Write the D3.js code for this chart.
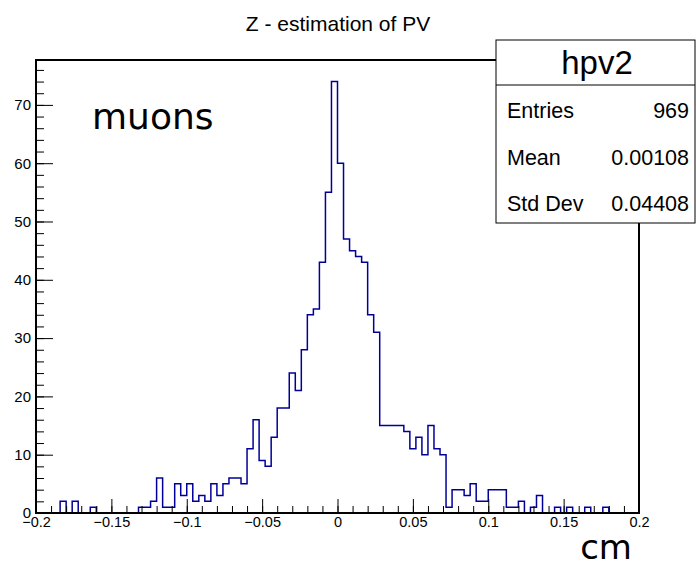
<!DOCTYPE html>
<html>
<head>
<meta charset="utf-8">
<script src="https://cdn.jsdelivr.net/npm/d3@7"></script>
<style>
  body { margin: 0; background: #fff; }
  text { font-family: "Liberation Sans", Arial, sans-serif; }
</style>
</head>
<body>
<script>
// histogram binning (100 bins from -0.2 to 0.2)
const xMin = -0.2, xMax = 0.2, nBins = 100;

// bin contents
const counts = [
  0, 0, 0, 0, 2, 0, 2, 0, 0, 1,
  0, 0, 0, 0, 0, 0, 0, 1, 1, 2,
  6, 1, 1, 5, 3, 5, 2, 3, 2, 5,
  3, 5, 6, 6, 5, 11, 16, 9, 8, 13,
  18, 18, 24, 21, 28, 34, 35, 43, 55, 74,
  60, 47, 45, 44, 43, 34, 31, 15, 15, 15,
  15, 14, 11, 13, 10, 15, 11, 10, 1, 4,
  4, 3, 5, 2, 2, 4, 4, 4, 1, 1,
  2, 0, 1, 3, 0, 0, 1, 0, 1, 0,
  0, 1, 0, 0, 1, 0, 0, 0, 0, 0
];

const xTicks = [-0.2, -0.15, -0.1, -0.05, 0, 0.05, 0.1, 0.15, 0.2];
const xTickLabels = ["\u22120.2", "\u22120.15", "\u22120.1", "\u22120.05", "0", "0.05", "0.1", "0.15", "0.2"];
const yTicks = [0, 10, 20, 30, 40, 50, 60, 70];

const statsNames = ["Entries", "Mean", "Std Dev"];
const statsValues = ["969", "0.00108", "0.04408"];

const width = 696, height = 564;
const svg = d3.select("body").append("svg")
    .attr("width", width)
    .attr("height", height);

svg.append("rect").attr("width", width).attr("height", height).attr("fill", "#fff");

const frameL = 36, frameR = 639, frameT = 60, frameB = 513;
const yMax = d3.max(counts) * 1.05;

const x = d3.scaleLinear().domain([xMin, xMax]).range([frameL, frameR]);
const y = d3.scaleLinear().domain([0, yMax]).range([frameB, frameT]);

const binW = (xMax - xMin) / nBins;
const steps = counts.map((c, i) => [xMin + i * binW, c]);
steps.push([xMax, counts[counts.length - 1]]);

// histogram outline
svg.append("path")
    .datum(steps)
    .attr("fill", "none")
    .attr("stroke", "#000099")
    .attr("stroke-width", 1.5)
    .attr("d", d3.line().x(d => x(d[0])).y(d => y(d[1])).curve(d3.curveStepAfter));

// x axis: minor then major ticks
svg.append("g")
    .attr("transform", `translate(0,${frameB})`)
    .call(d3.axisBottom(x).ticks(40).tickSize(-7).tickFormat(""))
    .call(g => g.select(".domain").remove())
    .call(g => g.selectAll("line").attr("stroke", "#000"));

svg.append("g")
    .attr("transform", `translate(0,${frameB})`)
    .call(d3.axisBottom(x).tickValues(xTicks).tickSize(-14).tickPadding(4)
        .tickFormat((d, i) => xTickLabels[i]))
    .call(g => g.select(".domain").remove())
    .call(g => g.selectAll("text").attr("font-size", 14.5).attr("fill", "#000")
        .style("font-family", "Liberation Sans, Arial, sans-serif"));

// y axis
svg.append("g")
    .attr("transform", `translate(${frameL},0)`)
    .call(d3.axisLeft(y).ticks(38).tickSize(-8).tickFormat(""))
    .call(g => g.select(".domain").remove());

svg.append("g")
    .attr("transform", `translate(${frameL},0)`)
    .call(d3.axisLeft(y).tickValues(yTicks).tickSize(-17).tickPadding(5))
    .call(g => g.select(".domain").remove())
    .call(g => g.selectAll("text").attr("font-size", 15).attr("fill", "#000")
        .style("font-family", "Liberation Sans, Arial, sans-serif"));

// frame
svg.append("rect")
    .attr("x", frameL).attr("y", frameT)
    .attr("width", frameR - frameL).attr("height", frameB - frameT)
    .attr("fill", "none").attr("stroke", "#000").attr("stroke-width", 2);

// title
svg.append("text")
    .attr("x", 338).attr("y", 31)
    .attr("text-anchor", "middle")
    .attr("font-size", 21)
    .text("Z - estimation of PV");

svg.append("text")
    .attr("x", 92).attr("y", 129)
    .style("font-family", "DejaVu Sans, sans-serif")
    .attr("font-size", 36)
    .text("muons");

svg.append("text")
    .attr("x", 632).attr("y", 559)
    .attr("text-anchor", "end")
    .style("font-family", "DejaVu Sans, sans-serif")
    .attr("font-size", 34)
    .text("cm");

// stats box
const box = svg.append("g");
box.append("rect")
    .attr("x", 496).attr("y", 40).attr("width", 199).attr("height", 183)
    .attr("fill", "#fff").attr("stroke", "#000").attr("stroke-width", 1);
box.append("line")
    .attr("x1", 496).attr("x2", 695).attr("y1", 85).attr("y2", 85)
    .attr("stroke", "#000");
box.append("text")
    .attr("x", 597).attr("y", 74)
    .attr("text-anchor", "middle")
    .attr("font-size", 33)
    .text("hpv2");

const rowY = [118, 165, 211];
box.selectAll("text.name")
    .data(statsNames)
    .join("text")
    .attr("class", "name")
    .attr("x", 507).attr("y", (d, i) => rowY[i])
    .attr("font-size", 21.5)
    .text(d => d);
box.selectAll("text.val")
    .data(statsValues)
    .join("text")
    .attr("class", "val")
    .attr("x", 689).attr("y", (d, i) => rowY[i])
    .attr("text-anchor", "end")
    .attr("font-size", 21.5)
    .text(d => d);
</script>
</body>
</html>
